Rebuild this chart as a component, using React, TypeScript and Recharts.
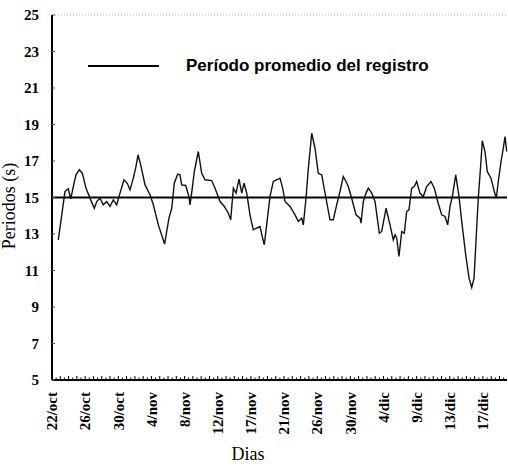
import React from 'react';
import { LineChart, Line, XAxis, YAxis, ReferenceLine, Legend } from 'recharts';

// etiquetas del eje de días (espaciadas uniformemente)
const fechas = ['22/oct', '26/oct', '30/oct', '4/nov', '8/nov', '12/nov', '17/nov', '21/nov', '26/nov', '30/nov', '4/dic', '9/dic', '13/dic', '17/dic'];

// días desde el inicio del registro
const dias = [
  0.82, 1.69, 2.12, 2.43, 2.86, 3.12, 3.55, 3.94, 4.42, 5.03, 5.49, 5.81, 6.23, 6.66, 7.1, 7.53, 7.96, 8.4, 8.83, 9.35,
  9.78, 10.13, 10.56, 10.91, 11.17, 11.52, 12.08, 12.73, 13.16, 13.81, 14.62, 15.19, 15.55, 15.88, 16.32, 16.62, 16.84,
  17.36, 17.79, 17.92, 18.22, 18.48, 19.0, 19.44, 19.87, 20.74, 21.17, 21.82, 22.38, 22.9, 23.21, 23.55, 23.9, 24.29,
  24.64, 24.94, 25.29, 25.71, 26.14, 26.58, 27.01, 27.31, 27.57, 27.88, 28.31, 28.74, 29.18, 29.61, 29.96, 30.26, 30.91,
  31.56, 31.99, 32.43, 32.64, 32.99, 33.29, 33.73, 34.16, 34.58, 35.03, 35.58, 36.1, 36.53, 36.97, 37.4, 37.83, 38.18,
  38.48, 38.92, 39.48, 40.0, 40.13, 40.43, 40.78, 41.08, 41.52, 41.95, 42.51, 42.82, 43.38, 43.9, 44.32, 44.55, 44.77,
  45.06, 45.42, 45.75, 46.06, 46.36, 46.71, 47.05, 47.36, 47.79, 48.22, 48.66, 49.22, 49.65, 50.09, 50.61, 51.04, 51.39,
  51.69, 51.99, 52.43, 52.86, 53.21, 53.73, 54.16, 54.51, 54.81, 55.06, 55.36, 55.71, 55.88, 56.23, 56.53, 57.01, 57.44,
  57.7, 57.96, 58.31, 58.61, 58.83, 59.05,
];

// periodo (s)
const periodos = [
  12.68, 15.33, 15.48, 14.93, 15.78, 16.24, 16.52, 16.33, 15.51, 14.87, 14.41, 14.78, 14.96, 14.6, 14.78, 14.51, 14.87,
  14.6, 15.24, 15.97, 15.78, 15.42, 16.06, 16.7, 17.34, 16.79, 15.69, 15.15, 14.6, 13.5, 12.45, 13.87, 14.41, 15.78,
  16.28, 16.24, 15.69, 15.66, 15.05, 14.6, 15.51, 16.42, 17.52, 16.33, 15.97, 15.93, 15.51, 14.78, 14.51, 14.14, 13.78,
  15.51, 15.24, 16.0, 15.24, 15.78, 15.24, 14.05, 13.23, 13.32, 13.41, 12.86, 12.41, 13.5, 15.05, 15.88, 15.97, 16.06,
  15.51, 14.78, 14.51, 14.05, 13.69, 13.87, 13.5, 14.96, 16.61, 18.52, 17.7, 16.33, 16.24, 14.96, 13.78, 13.78, 14.6,
  15.33, 16.15, 15.88, 15.6, 14.96, 14.05, 13.87, 13.59, 14.78, 15.24, 15.51, 15.24, 14.78, 13.04, 13.14, 14.41, 13.5,
  12.68, 12.96, 12.77, 11.77, 13.14, 13.04, 14.23, 14.32, 15.51, 15.6, 15.88, 15.24, 15.05, 15.6, 15.88, 15.51, 14.78,
  14.05, 13.96, 13.5, 14.51, 15.05, 16.24, 15.05, 13.69, 11.86, 10.58, 10.07, 10.58, 12.59, 14.96, 16.97, 18.11, 17.52,
  16.42, 16.06, 15.33, 14.96, 15.88, 16.97, 17.7, 18.34, 17.52,
];

const promedio = 15;
const yTicks = [5, 7, 9, 11, 13, 15, 17, 19, 21, 23, 25];

const PASO = 4.305; // días entre etiquetas
const DIA_MAX = 59.09;
const SUB = 8; // marcas menores por intervalo

const data = dias.map((t, i) => ({ t, p: periodos[i] }));

const xTicks: number[] = [];
for (let k = 0; (k * PASO) / SUB <= DIA_MAX; k++) xTicks.push(+((k * PASO) / SUB).toFixed(4));

const serif = '"Liberation Serif", "Times New Roman", serif';
const sans = '"Liberation Sans", Arial, sans-serif';

function XTick(props: any) {
  const { x, y, payload } = props;
  const k = Math.round(payload.value / (PASO / SUB));
  const label = k % SUB === 0 ? fechas[k / SUB] : null;
  return (
    <g>
      <line x1={x} x2={x} y1={y} y2={y - (k % 2 === 0 ? 4 : 2.5)} stroke="#000" strokeWidth={1} />
      {label && (
        <text
          transform={`translate(${x},${y + 12}) rotate(-90)`}
          textAnchor="end"
          dy="0.35em"
          fontFamily={serif}
          fontSize={15}
          fontWeight="bold"
          fill="#000"
        >
          {label}
        </text>
      )}
    </g>
  );
}

function YTick(props: any) {
  const { x, y, payload } = props;
  return (
    <g>
      <line x1={x} x2={x + 3} y1={y} y2={y} stroke="#555" strokeWidth={1} />
      <text x={x - 13} y={y} dy="0.35em" textAnchor="end" fontFamily={serif} fontSize={15} fontWeight="bold" fill="#000">
        {payload.value}
      </text>
    </g>
  );
}

const renderLegend = () => (
  <div style={{ display: 'flex', alignItems: 'center', fontFamily: sans, fontWeight: 'bold', fontSize: 17, lineHeight: '20px', color: '#000', whiteSpace: 'nowrap' }}>
    <svg width={71} height={4}>
      <line x1={0} y1={2} x2={71} y2={2} stroke="#000" strokeWidth={2} />
    </svg>
    <span style={{ marginLeft: 27 }}>Período promedio del registro</span>
  </div>
);

export default function App() {
  return (
    <div style={{ position: 'absolute', left: 0, top: 0, background: '#fff' }}>
      <LineChart width={508} height={470} data={data} margin={{ top: 15, right: 1, bottom: 0, left: 0 }}>
        <XAxis
          type="number"
          dataKey="t"
          domain={[0, DIA_MAX]}
          ticks={xTicks}
          interval={0}
          tickSize={0}
          tickMargin={0}
          tickLine={false}
          tick={XTick}
          axisLine={{ stroke: '#000', strokeWidth: 2 }}
          height={90}
          label={{
            content: (p: any) => (
              <text x={p.viewBox.x + 196} y={p.viewBox.y + 80} textAnchor="middle" fontFamily={serif} fontSize={18} fill="#000">
                Dias
              </text>
            ),
          }}
        />
        <YAxis
          type="number"
          domain={[5, 25]}
          ticks={yTicks}
          interval={0}
          tickSize={0}
          tickMargin={0}
          tickLine={false}
          tick={YTick}
          axisLine={{ stroke: '#000', strokeWidth: 2 }}
          width={52}
          label={{
            content: () => (
              <text transform="translate(15,206) rotate(-90)" textAnchor="middle" fontFamily={serif} fontSize={18} fill="#000">
                Periodos (s)
              </text>
            ),
          }}
        />
        <ReferenceLine y={25} stroke="#aaa" strokeDasharray="1 2" />
        {/* ejes reforzados */}
        <ReferenceLine x={0} stroke="#000" strokeWidth={2} />
        <ReferenceLine y={5} stroke="#000" strokeWidth={1.5} />
        <ReferenceLine y={promedio} stroke="#000" strokeWidth={2} />
        <Line
          dataKey="p"
          type="linear"
          stroke="#111"
          strokeWidth={1.4}
          dot={false}
          isAnimationActive={false}
          name="Período promedio del registro"
        />
        <Legend
          layout="horizontal"
          verticalAlign="middle"
          align="center"
          wrapperStyle={{ top: 56, left: 88, width: 'auto' }}
          content={renderLegend}
        />
      </LineChart>
    </div>
  );
}
